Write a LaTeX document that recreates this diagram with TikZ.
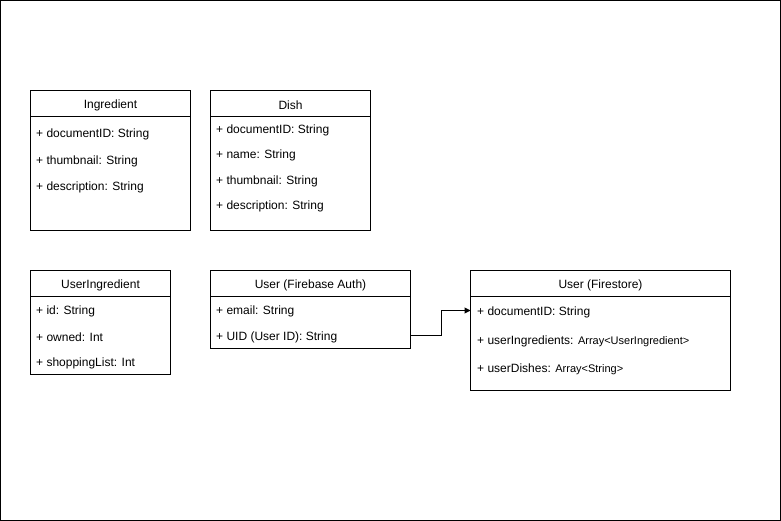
\documentclass[tikz,border=0pt]{standalone}
\usepackage{fontspec}
\setmainfont{Liberation Sans}
\usetikzlibrary{arrows.meta}
\begin{document}
\begin{tikzpicture}[x=1pt,y=-1pt,
  box/.style={draw,line width=1pt},
  hdr/.style={anchor=center,inner sep=0pt,yshift=-1.5pt,font=\fontsize{12}{14}\selectfont},
  attr/.style={anchor=west,inner sep=0pt,yshift=-1.5pt,font=\fontsize{12}{14}\selectfont},
  conn/.style={draw,line width=1pt,-{Triangle[length=6pt,width=6pt]}}]
\useasboundingbox (0,0) rectangle (781,521);
\draw[line width=1pt] (0.5,0.5) rectangle (780.5,520.5);
% Ingredient
\draw[box] (30.5,90.5) rectangle (190.5,230.5);
\draw[box] (30.5,116.5) -- (190.5,116.5);
\node[hdr] (ingT) at (110.5,103.5) {Ingredient};
\node[attr] (ing1) at (36,133) {+ documentID: String};
\node[attr] (ing2) at (36,160) {+ thumbnail: String};
\node[attr] (ing3) at (36,186) {+ description: String};
% Dish
\draw[box] (210.5,90.5) rectangle (370.5,230.5);
\draw[box] (210.5,116.5) -- (370.5,116.5);
\node[hdr] (dishT) at (290.5,103.5) {Dish};
\node[attr] (d1) at (216,129) {+ documentID: String};
\node[attr] (d2) at (216,154) {+ name: String};
\node[attr] (d3) at (216,180) {+ thumbnail: String};
\node[attr] (d4) at (216,205) {+ description: String};
% UserIngredient
\draw[box] (30.5,270.5) rectangle (170.5,374.5);
\draw[box] (30.5,296.5) -- (170.5,296.5);
\node[hdr] (uiT) at (100.5,283.5) {UserIngredient};
\node[attr] (ui1) at (36,309.5) {+ id: String};
\node[attr] (ui2) at (36,335.5) {+ owned: Int};
\node[attr] (ui3) at (36,361.5) {+ shoppingList: Int};
% User (Firebase Auth)
\draw[box] (210.5,270.5) rectangle (410.5,348.5);
\draw[box] (210.5,296.5) -- (410.5,296.5);
\node[hdr] (faT) at (310.5,283.5) {User (Firebase Auth)};
\node[attr] (fa1) at (216,309.5) {+ email: String};
\node[attr] (fa2) at (216,335.5) {+ UID (User ID): String};
\coordinate (faR) at (410.5,335.5);
% User (Firestore)
\draw[box] (470.5,270.5) rectangle (730.5,390.5);
\draw[box] (470.5,296.5) -- (730.5,296.5);
\node[hdr] (fsT) at (600.5,283.5) {User (Firestore)};
\node[attr] (fs1) at (477,310.5) {+ documentID: String};
\node[attr] (fs2) at (477,339.5) {+ userIngredients: {\fontsize{11}{13}\selectfont Array<UserIngredient>}};
\node[attr] (fs3) at (477,367.5) {+ userDishes: {\fontsize{11}{13}\selectfont Array<String>}};
\coordinate (fsL) at (470.5,310.5);
\draw[conn] (faR) -- (441,335.5) -- (441,310.5) -- (fsL);
\end{tikzpicture}
\end{document}
